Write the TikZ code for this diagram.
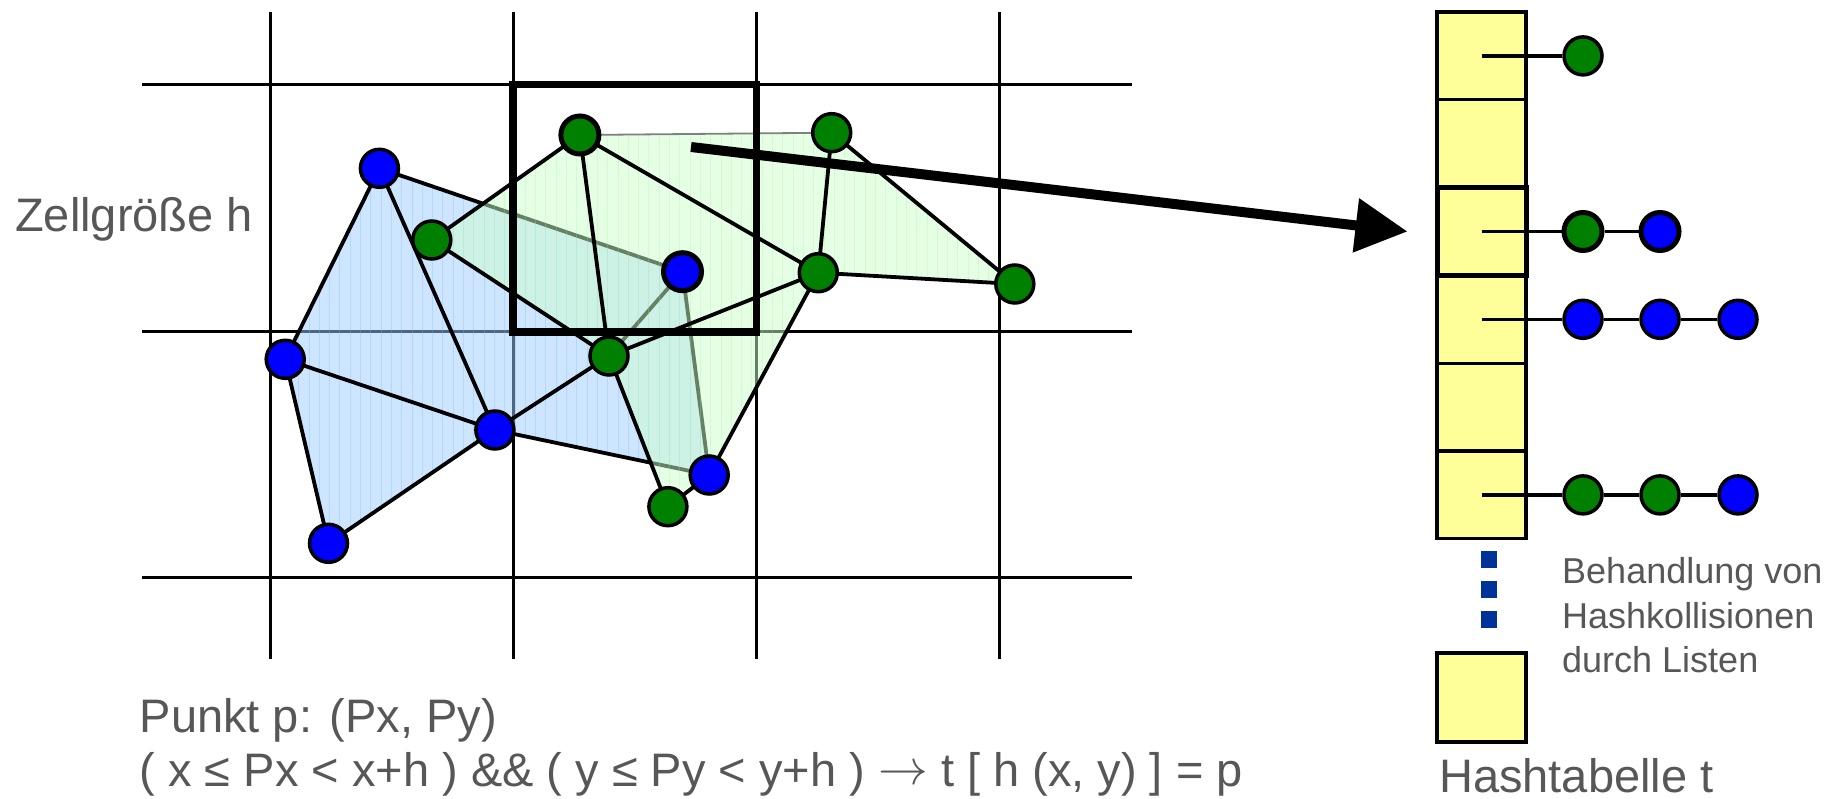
\documentclass[tikz,border=0pt]{standalone}
\usepackage{graphicx}
\usepackage{fontspec}
\setmainfont{Liberation Sans}
\usetikzlibrary{arrows.meta}
\definecolor{txt}{rgb}{0.34,0.34,0.34}
\definecolor{bfill}{rgb}{0.62,0.80,1.0}
\definecolor{btex}{rgb}{0.45,0.72,1.0}
\definecolor{gfill}{rgb}{0.80,1.0,0.80}
\definecolor{gtex}{rgb}{0.62,0.92,0.62}
\definecolor{ngreen}{rgb}{0,0.5,0}
\definecolor{nblue}{rgb}{0,0,1}
\definecolor{cellyellow}{HTML}{FFFF99}
\definecolor{dotblue}{HTML}{003399}
\newcommand{\myarrow}{\raisebox{1.5pt}{\scalebox{2.0}{$\rightarrow$}}}
\begin{document}
\begin{tikzpicture}[x=1pt,y=-1pt,
  gridline/.style={line width=3pt},
  edge/.style={line width=3.8pt},
  bnode/.style={circle,draw,line width=3.5pt,fill=nblue,minimum size=38pt,inner sep=0pt},
  gnode/.style={bnode,fill=ngreen},
  thicknode/.style={line width=5pt},
  cellbox/.style={rectangle,draw,line width=3.2pt,fill=cellyellow,minimum width=89pt,minimum height=87.8pt,inner sep=0pt},
  ptr/.style={line width=3.3pt},
  dotsq/.style={rectangle,fill=dotblue,minimum width=16pt,minimum height=16.5pt,inner sep=0pt},
  bigtxt/.style={anchor=base west,inner sep=0pt,text=txt,font=\fontsize{47}{54}\selectfont},
  smalltxt/.style={anchor=base west,inner sep=0pt,text=txt,font=\fontsize{36}{44}\selectfont}
]
\useasboundingbox (0,0) rectangle (1845,799);

% grid
\foreach \x in {270.6,513,756.6,999} \draw[gridline] (\x,12) -- (\x,659);
\foreach \y in {84.7,331.8,577.8} \draw[gridline] (142,\y) -- (1132,\y);

% point positions
\coordinate (cB1) at (379.4,168.3);
\coordinate (cB2) at (285.2,359.3);
\coordinate (cB3) at (494.9,430);
\coordinate (cB4) at (328.5,543.3);
\coordinate (cB5) at (682.5,271.7);
\coordinate (cB6) at (709.2,475);
\coordinate (cG1) at (579.9,135);
\coordinate (cG2) at (831.7,132.7);
\coordinate (cG3) at (431.8,240);
\coordinate (cG4) at (818.3,272.7);
\coordinate (cG5) at (1014.8,284);
\coordinate (cG6) at (609,356);
\coordinate (cG7) at (667.9,506.7);

% blue region
\fill[bfill,fill opacity=0.5] (cB2) -- (cB1) -- (cB5) -- (cB6) -- (cB3) -- (cB4) -- cycle;
\begin{scope}
  \clip (cB2) -- (cB1) -- (cB5) -- (cB6) -- (cB3) -- (cB4) -- cycle;
  \draw[btex,opacity=0.3,line width=1pt,step=10.3] (200,100) grid (800,600);
\end{scope}
\draw[edge] (cB1) -- (cB2);
\draw[edge] (cB1) -- (cB3);
\draw[edge] (cB1) -- (cB5);
\draw[edge] (cB2) -- (cB3);
\draw[edge] (cB2) -- (cB4);
\draw[edge] (cB3) -- (cB4);
\draw[edge] (cB3) -- (cG6);
\draw[edge] (cB3) -- (cB6);
\draw[edge] (cB5) -- (cB6);
\draw[edge] (cB5) -- (cG6);

% green region
\fill[gfill,fill opacity=0.5] (cG3) -- (cG1) -- (cG2) -- (cG5) -- (cG4) -- (cB6) -- (cG7) -- (cG6) -- cycle;
\begin{scope}
  \clip (cG3) -- (cG1) -- (cG2) -- (cG5) -- (cG4) -- (cB6) -- (cG7) -- (cG6) -- cycle;
  \draw[gtex,opacity=0.25,line width=1pt,step=10.3] (400,100) grid (1050,550);
\end{scope}
\draw[gray,line width=1.8pt] (cG1) -- (cG2);
\draw[edge] (cG3) -- (cG1);
\draw[edge] (cG3) -- (cG6);
\draw[edge] (cG1) -- (cG6);
\draw[edge] (cG1) -- (cG4);
\draw[edge] (cG2) -- (cG4);
\draw[edge] (cG2) -- (cG5);
\draw[edge] (cG4) -- (cG5);
\draw[edge] (cG4) -- (cG6);
\draw[edge] (cG4) -- (cB6);
\draw[edge] (cB6) -- (cG7);
\draw[edge] (cG7) -- (cG6);

% highlighted cell
\node[draw,line width=7.5pt,minimum width=243.6pt,minimum height=247.1pt,inner sep=0pt] (cell) at (634.8,208.25) {};

% points
\node[bnode] (B1) at (cB1) {};
\node[bnode] (B2) at (cB2) {};
\node[bnode] (B3) at (cB3) {};
\node[bnode] (B4) at (cB4) {};
\node[bnode,thicknode] (B5) at (cB5) {};
\node[bnode] (B6) at (cB6) {};
\node[gnode,thicknode] (G1) at (cG1) {};
\node[gnode] (G2) at (cG2) {};
\node[gnode] (G3) at (cG3) {};
\node[gnode] (G4) at (cG4) {};
\node[gnode] (G5) at (cG5) {};
\node[gnode] (G6) at (cG6) {};
\node[gnode] (G7) at (cG7) {};

% hash table
\node[cellbox] (c1) at (1481.5,55.9) {};
\node[cellbox] (c2) at (1481.5,143.7) {};
\node[cellbox] (c4) at (1481.5,319.3) {};
\node[cellbox] (c5) at (1481.5,407.1) {};
\node[cellbox] (c6) at (1481.5,494.9) {};
\node[cellbox,line width=5pt] (c3) at (1481.5,231.5) {};
\node[cellbox,minimum height=89pt] (c7) at (1481.5,697.5) {};

\node[gnode] (h1a) at (1583,55.9) {};
\node[gnode,thicknode] (h3a) at (1583,231.5) {};
\node[bnode,thicknode] (h3b) at (1660,231.5) {};
\node[bnode] (h4a) at (1583,319.3) {};
\node[bnode] (h4b) at (1660,319.3) {};
\node[bnode] (h4c) at (1738,319.3) {};
\node[gnode] (h6a) at (1583,494.9) {};
\node[gnode] (h6b) at (1660,494.9) {};
\node[bnode] (h6c) at (1738,494.9) {};

\draw[ptr] (c1.center) -- (h1a);
\draw[ptr] (c3.center) -- (h3a);
\draw[ptr] (h3a) -- (h3b);
\draw[ptr] (c4.center) -- (h4a);
\draw[ptr] (h4a) -- (h4b);
\draw[ptr] (h4b) -- (h4c);
\draw[ptr] (c6.center) -- (h6a);
\draw[ptr] (h6a) -- (h6b);
\draw[ptr] (h6b) -- (h6c);

\node[dotsq] (d1) at (1489,559.5) {};
\node[dotsq] (d2) at (1489,589.5) {};
\node[dotsq] (d3) at (1489,619.5) {};

% arrow
\coordinate (arrs) at (691,147);
\draw[line width=10pt,-{Triangle[length=52pt,width=52pt]}] (arrs) -- ([xshift=-27pt]c3.west);

% texts
\node[bigtxt] (zell) at (15,232) {Zellgröße h};
\node[bigtxt] (pkt1) at (139.5,732) {Punkt p: (Px, Py)};
\node[bigtxt] (pkt2) at (139.5,786) {( x ≤ Px < x+h ) \&\& ( y ≤ Py < y+h ) \myarrow{} t [ h (x, y) ] = p};
\node[bigtxt] (htab) at (1439,792) {Hashtabelle t};
\node[smalltxt] (beh1) at (1562,583.3) {Behandlung von};
\node[smalltxt] (beh2) at (1562,628) {Hashkollisionen};
\node[smalltxt] (beh3) at (1562,672) {durch Listen};
\end{tikzpicture}
\end{document}
